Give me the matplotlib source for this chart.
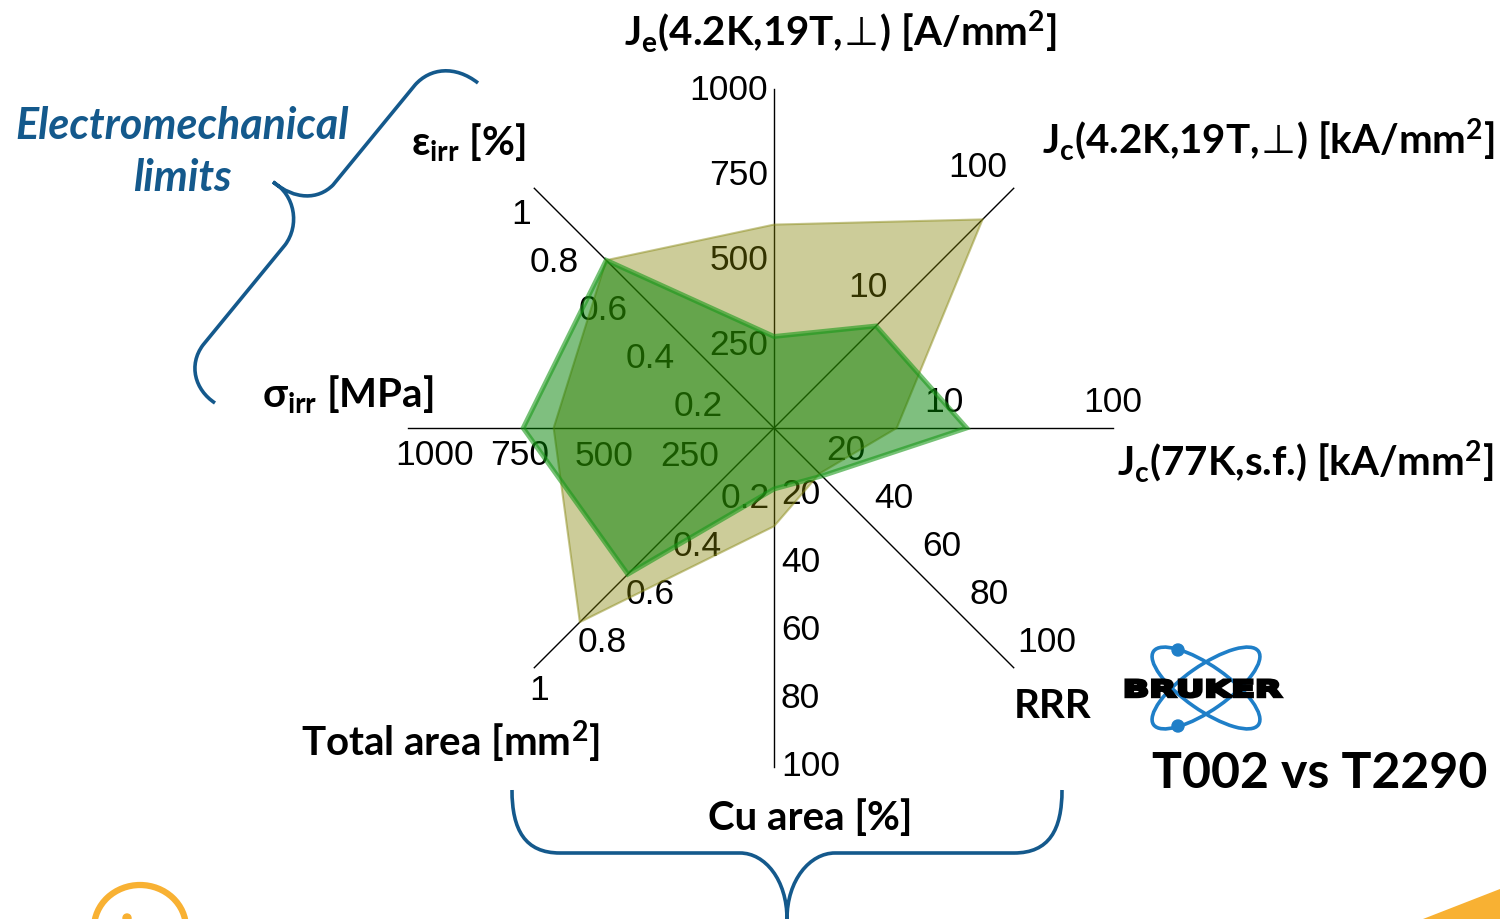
import numpy as np
import matplotlib
matplotlib.use('Agg')
import matplotlib.pyplot as plt
from matplotlib.path import Path
from matplotlib.patches import PathPatch, Polygon, Ellipse, Arc, Circle
from matplotlib.textpath import TextPath
from matplotlib.font_manager import FontProperties
from matplotlib.transforms import Affine2D

plt.rcParams['mathtext.fontset'] = 'custom'
plt.rcParams['mathtext.rm'] = 'Lato:bold'
plt.rcParams['mathtext.bf'] = 'Lato:bold'
plt.rcParams['mathtext.sf'] = 'DejaVu Sans'
plt.rcParams['mathtext.default'] = 'rm'

# radar axes, counter-clockwise starting at the top
axis_titles = [r'J$_{e}$(4.2K,19T,$\!\mathsf{\bot}\!$) [A/mm$^{2}$]', 'ε$_{irr}$ [%]', 'σ$_{irr}$ [MPa]',
               'Total area [mm$^{2}$]', 'Cu area [%]', 'RRR',
               'J$_{c}$(77K,s.f.) [kA/mm$^{2}$]', r'J$_{c}$(4.2K,19T,$\!\mathsf{\bot}\!$) [kA/mm$^{2}$]']
axis_angles = [90, 135, 180, 225, 270, 315, 0, 45]
axis_max = [1000, 1, 1000, 1, 100, 100, 100, 100]
axis_log = [False, False, False, False, False, False, True, True]

je_ticks = [250, 500, 750, 1000]
eps_ticks = [0.2, 0.4, 0.6, 0.8, 1]
sigma_ticks = [250, 500, 750, 1000]
area_ticks = [0.2, 0.4, 0.6, 0.8, 1]
cu_ticks = [20, 40, 60, 80, 100]
rrr_ticks = [20, 40, 60, 80, 100]
jc77_ticks = [10, 100]
jc19_ticks = [10, 100]
all_ticks = [je_ticks, eps_ticks, sigma_ticks, area_ticks, cu_ticks, rrr_ticks, jc77_ticks, jc19_ticks]

# values (same axis order)
t002 = [600, 0.70, 650, 0.81, 29, 19, 5.3, 55]
t2290 = [270, 0.70, 740, 0.61, 18, 20, 13.7, 7.1]

cx, cy, R = 774, 428, 339

def radius(i, v):
    if axis_log[i]:
        return R * np.log10(v) / np.log10(axis_max[i])
    return R * v / axis_max[i]

def to_xy(i, r):
    a = np.radians(axis_angles[i])
    return cx + r * np.cos(a), cy - r * np.sin(a)

fig = plt.figure(figsize=(15, 9.19), dpi=100)
ax = fig.add_axes([0, 0, 1, 1])
ax.set_xlim(0, 1500)
ax.set_ylim(919, 0)
ax.axis('off')

# spokes
for i in range(8):
    ext = 1.08 if axis_angles[i] == 180 else 1.0
    x1, y1 = to_xy(i, R * ext)
    ax.plot([cx, x1], [cy, y1], color='black', lw=1.0, zorder=1)

# tick labels: offset (px), ha
lab_style = [(-6, 2, 'right'), (-3, 26, 'right'), (0, 28, 'center'), (-5, 23, 'left'),
             (7, -1, 'left'), (4, -25, 'left'), (0, -25, 'center'), (-6, -21, 'right')]
for i, ticks in enumerate(all_ticks):
    dx, dy, ha = lab_style[i]
    for t in ticks:
        x, y = to_xy(i, radius(i, t))
        ax.text(x + dx, y + dy, '{:g}'.format(t), ha=ha, va='center',
                fontsize=25.5, family='Liberation Sans', color='black', zorder=1)

# series polygons
def poly(vals):
    return [to_xy(i, radius(i, v)) for i, v in enumerate(vals)]

ax.add_patch(Polygon(poly(t002), closed=True, fc=(0.5, 0.5, 0, 0.4),
                     ec=(0.55, 0.55, 0.1, 0.5), lw=1.5, zorder=2))
ax.add_patch(Polygon(poly(t2290), closed=True, fc=(0, 0.5, 0, 0.5),
                     ec=(0.1, 0.6, 0.1, 0.6), lw=3.5, zorder=3))

# axis titles
title_pos = [(840, 32), (468, 143), (348, 395), (450, 742), (810, 818),
             (1053, 706), (1305, 462), (1268, 140)]
for name, (x, y) in zip(axis_titles, title_pos):
    ax.text(x, y, name, ha='center', va='center', fontsize=29, fontweight='bold',
            family=['Lato', 'DejaVu Sans'], color='black')

blue = '#14598c'
ax.text(182, 126, 'Electromechanical', ha='center', va='center', fontsize=31,
        fontweight='bold', style='italic', family='Lato', color=blue)
ax.text(182, 178, 'limits', ha='center', va='center', fontsize=31,
        fontweight='bold', style='italic', family='Lato', color=blue)
ax.text(1320, 773, 'T002 vs T2290', ha='center', va='center', fontsize=36,
        fontweight='bold', family='Lato', color='black')

# braces
C, L, M = Path.CURVE4, Path.LINETO, Path.MOVETO
left_brace = Path([(478, 83), (455, 65), (430, 68), (415, 85), (333, 185),
                   (318, 200), (295, 200), (273, 182),
                   (295, 195), (300, 225), (285, 245), (203, 345),
                   (188, 365), (195, 390), (215, 403)],
                  [M, C, C, C, L, C, C, C, C, C, C, L, C, C, C])
ax.add_patch(PathPatch(left_brace, fc='none', ec=blue, lw=2.6))
bottom_brace = Path([(512, 790), (512, 830), (525, 853), (560, 853), (740, 853),
                     (765, 853), (787, 880), (787, 919),
                     (1062, 790), (1062, 830), (1049, 853), (1014, 853), (835, 853),
                     (810, 853), (787, 880), (787, 919)],
                    [M, C, C, C, L, C, C, C, M, C, C, C, L, C, C, C])
ax.add_patch(PathPatch(bottom_brace, fc='none', ec=blue, lw=2.6))

# Bruker logo
logo_blue = '#1f7fc8'
for ang in (35, -35):
    ax.add_patch(Ellipse((1206, 688), 128, 44, angle=ang, fc='none', ec=logo_blue, lw=2.6))
ax.add_patch(Circle((1178, 650), 6, color=logo_blue))
ax.add_patch(Circle((1178, 726), 6, color=logo_blue))
tp = TextPath((0, 0), 'BRUKER', size=20, prop=FontProperties(family='DejaVu Sans', weight='bold'))
ext = tp.get_extents()
tr = Affine2D().translate(-ext.x0, -ext.y0).scale(155 / ext.width, -17 / ext.height).translate(1126, 697)
ax.add_patch(PathPatch(tr.transform_path(tp), fc='black', ec='black', lw=2.2))

# orange decorations at the bottom
orange = '#f8b133'
ax.add_patch(Arc((140, 928), 92, 86, theta1=180, theta2=360, ec=orange, lw=4.5))
ax.add_patch(Circle((127, 918), 4, color=orange))
ax.add_patch(Polygon([(1423, 919), (1500, 889), (1500, 919)], closed=True, fc=orange, ec='none'))

fig.savefig('out.png', dpi=100)
